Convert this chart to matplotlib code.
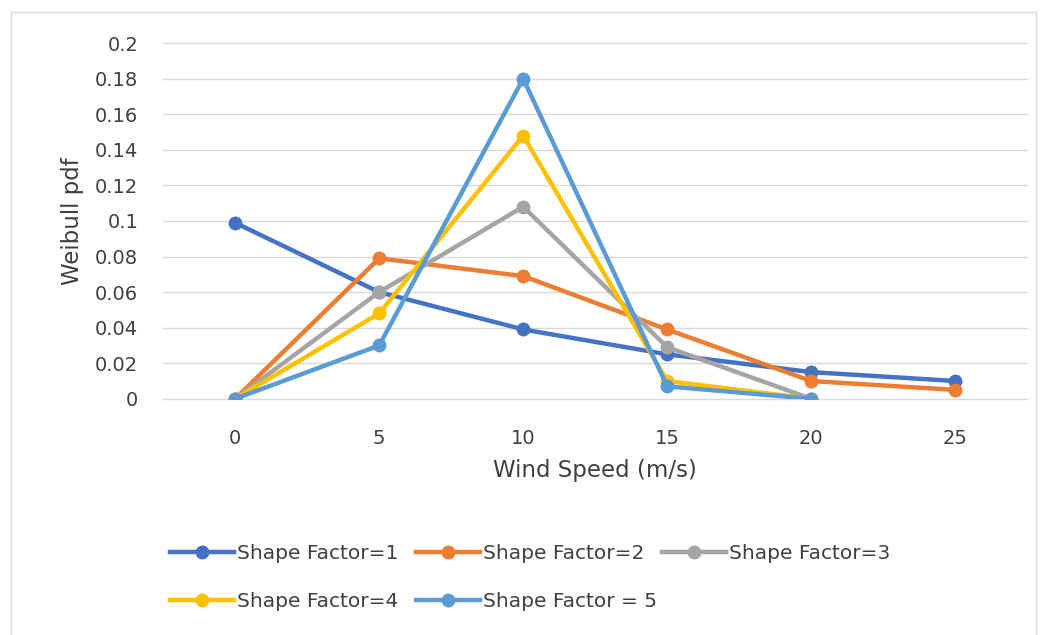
import matplotlib
matplotlib.use("Agg")
import matplotlib.pyplot as plt
from matplotlib.patches import Rectangle

plt.rcParams['font.family'] = ['DejaVu Sans']

wind_speed = ['0', '5', '10', '15', '20', '25']
sf1 = [0.099, 0.060, 0.039, 0.025, 0.015, 0.010]
sf2 = [0.0, 0.079, 0.069, 0.039, 0.010, 0.005]
sf3 = [0.0, 0.060, 0.108, 0.029, 0.0]
sf4 = [0.0, 0.048, 0.148, 0.010, 0.0]
sf5 = [0.0, 0.030, 0.180, 0.007, 0.0]

labels = ['Shape Factor=1', 'Shape Factor=2', 'Shape Factor=3',
          'Shape Factor=4', 'Shape Factor = 5']
colors = ['#4472C4', '#ED7D31', '#A5A5A5', '#FFC000', '#5B9BD5']
series = [sf1, sf2, sf3, sf4, sf5]
txt = '#404040'

fig = plt.figure(figsize=(10.46, 6.35), dpi=100)
fig.patches.append(Rectangle((0.0105, -0.05), 0.98, 1.031, transform=fig.transFigure,
                             fill=False, edgecolor='#d9d9d9', linewidth=1))
ax = fig.add_axes([0.156, 0.372, 0.826, 0.560])

lines = []
for vals, lab, c in zip(series, labels, colors):
    ln, = ax.plot(range(len(vals)), vals, color=c, linewidth=3.2, marker='o',
                  markersize=9, label=lab, zorder=3)
    lines.append(ln)

ax.set_xlim(-0.5, 5.5)
ax.set_ylim(0, 0.2)
ax.set_xticks(range(len(wind_speed)))
ax.set_xticklabels(wind_speed)
yt = [i * 0.02 for i in range(11)]
ax.set_yticks(yt)
ax.set_yticklabels(['0', '0.02', '0.04', '0.06', '0.08', '0.1', '0.12', '0.14',
                    '0.16', '0.18', '0.2'])
ax.grid(axis='y', color='#d9d9d9', linewidth=1)
for gl in ax.get_ygridlines():
    gl.set_clip_on(False)
ax.set_axisbelow(True)
for s in ax.spines.values():
    s.set_visible(False)
ax.tick_params(length=0, labelsize=14, colors=txt)
ax.tick_params(axis='y', pad=18)
ax.tick_params(axis='x', pad=22)
ax.set_xlabel('Wind Speed (m/s)', fontsize=16.5, color=txt, labelpad=8)
ax.set_ylabel('Weibull pdf', fontsize=16.5, color=txt, labelpad=8)

leg_kw = dict(loc='center left', frameon=False, fontsize=14.5, handlelength=3.2,
              handletextpad=0.15, columnspacing=0.85, borderpad=0,
              borderaxespad=0, labelcolor=txt)
fig.legend(handles=lines[:3], ncol=3, bbox_to_anchor=(0.1625, 0.129), **leg_kw)
fig.legend(handles=lines[3:], ncol=2, bbox_to_anchor=(0.1625, 0.052), **leg_kw)

fig.savefig('out.png', dpi=100)
